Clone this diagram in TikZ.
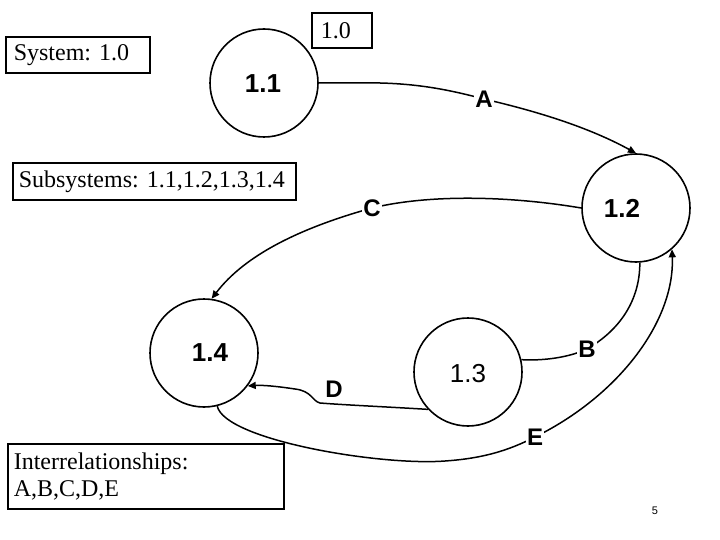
\documentclass[tikz,border=0pt]{standalone}
\usepackage{fontspec}
\setmainfont{Liberation Serif}
\setsansfont{Liberation Sans}
\usetikzlibrary{arrows.meta}
\begin{document}
\frenchspacing
\begin{tikzpicture}[x=1pt,y=-1pt,
  proc/.style={draw, line width=1.6pt, circle, minimum size=108pt, inner sep=0pt},
  plabel/.style={font=\fontsize{26}{28}\selectfont\sffamily\bfseries},
  flabel/.style={fill=white, inner sep=1pt, font=\fontsize{24}{26}\selectfont\sffamily\bfseries},
  tbox/.style={draw, line width=1.6pt, anchor=north west, align=left, inner ysep=0pt,
     font=\fontsize{24}{27}\selectfont\rmfamily},
  flow/.style={line width=1.5pt},
  arr/.style={-{Triangle[length=8pt,width=7pt]}}
]
\useasboundingbox (0,0) rectangle (720,540);

% boxes
\node[tbox, minimum width=144pt, minimum height=36pt, text width=128pt, inner xsep=8pt] (sys) at (5,36) {System: 1.0};
\node[tbox, minimum width=60pt, minimum height=35pt, text width=42pt, inner xsep=9pt] (one) at (311,12) {1.0};
\node[tbox, minimum width=283pt, minimum height=37pt, text width=271pt, inner xsep=6pt] (sub) at (12,162) {Subsystems: 1.1,1.2,1.3,1.4};

% processes
\node[proc] (c11) at (264,83) {};
\node[proc] (c12) at (636,208) {};
\node[proc] (c13) at (468,372) {};
\node[proc] (c14) at (204,353) {};
\node[plabel] (t11) at (263,84) {1.1};
\node[plabel] (t12) at (622,208) {1.2};
\node[plabel, font=\fontsize{26}{28}\selectfont\sffamily] (t13) at (468,374) {1.3};
\node[plabel] (t14) at (210,353) {1.4};

% label coordinates
\coordinate (pA) at (484,99);
\coordinate (pC) at (372,208);
\coordinate (pB) at (587,349);
\coordinate (pE) at (535,437);

% A
\draw[flow, arr] (c11.east) -- (380,83) .. controls (420,84) and (450,90) .. (pA)
   .. controls (540,112) and (590,128) .. (c12.north);
\node[flabel] (lA) at (pA) {A};

% C
\draw[flow, arr] (c12.west) .. controls (510,196) and (430,194) .. (pC)
   .. controls (300,228) and (245,255) .. (c14.82);
\node[flabel] (lC) at (pC) {C};

% B
\draw[flow] (c13.13) .. controls (545,361) and (570,357) .. (pB)
   .. controls (620,330) and (640,300) .. (c12.-86);
\node[flabel] (lB) at (pB) {B};

% E
\draw[flow, arr] (c14.-76) .. controls (225,440) and (380,466) .. (445,461)
   .. controls (490,458) and (515,447) .. (pE)
   .. controls (620,395) and (675,320) .. (c12.-49);
\node[flabel] (lE) at (pE) {E};

% D
\draw[flow, arr] (c13.-137) .. controls (390,407) and (345,405) .. (320,403)
   .. controls (312,401) and (312,391) .. (295,389)
   .. controls (275,386) and (262,385) .. (c14.-37);
\node[flabel, fill=none] (lD) at (334,389) {D};

% interrelationships box
\node[tbox, fill=white, minimum width=276pt, minimum height=65pt, text width=264pt, inner xsep=6pt] (inter) at (7,443) {Interrelationships:\\A,B,C,D,E};

\node[font=\fontsize{11}{12}\selectfont\sffamily] (pg) at (655,511) {5};
\end{tikzpicture}
\end{document}
